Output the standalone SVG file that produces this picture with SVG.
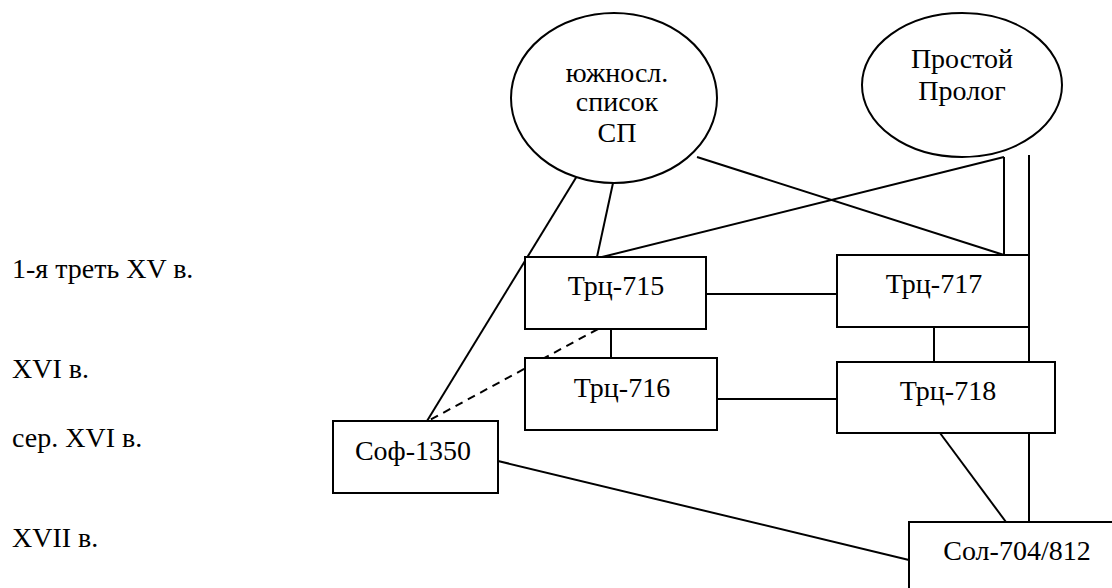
<svg xmlns="http://www.w3.org/2000/svg" width="1112" height="588" viewBox="0 0 1112 588" font-family="Liberation Serif, Tinos, Times New Roman, DejaVu Serif, Noto Serif, serif">
<style>
.n{fill:#fff;stroke:#000;stroke-width:2}
.t{font-size:28px;fill:#000}
.m{text-anchor:middle}
.c line{stroke:#000;stroke-width:2}
.d{stroke-dasharray:8 6}
</style>
<rect width="1112" height="588" fill="#fff"/>
<g id="labels">
<text class="t" x="12" y="278" style="font-family:'Liberation Serif',serif">1-я треть XV в.</text>
<text class="t" x="12" y="378">XVI в.</text>
<text class="t" x="12" y="447">сер. XVI в.</text>
<text class="t" x="12" y="547">XVII в.</text>
</g>
<g class="c" id="connectors">
<line x1="577" y1="176" x2="427" y2="421"/>
<line x1="613" y1="183" x2="597" y2="257"/>
<line x1="697" y1="157" x2="1004" y2="255"/>
<line x1="1004" y1="157" x2="602" y2="257"/>
<line x1="1004" y1="157" x2="1004" y2="255"/>
<line x1="1029" y1="155" x2="1029" y2="522"/>
<line x1="706" y1="294" x2="837" y2="294"/>
<line x1="611" y1="329" x2="611" y2="358"/>
<line class="d" x1="598" y1="329" x2="428" y2="421"/>
<line x1="717" y1="399" x2="837" y2="399"/>
<line x1="934" y1="327" x2="934" y2="362"/>
<line x1="940" y1="433" x2="1006" y2="522"/>
<line x1="498" y1="461" x2="909" y2="560"/>
</g>
<g id="n-yuzhnosl">
<ellipse class="n" cx="614" cy="98" rx="103" ry="85"/>
<text class="t m" x="617" y="82">южносл.</text>
<text class="t m" x="617" y="111">список</text>
<text class="t m" x="617" y="142">СП</text>
</g>
<g id="n-prostoy">
<ellipse class="n" cx="962" cy="85" rx="100" ry="72"/>
<text class="t m" x="962" y="68">Простой</text>
<text class="t m" x="962" y="100">Пролог</text>
</g>
<g id="n-715">
<rect class="n" x="525" y="257" width="181" height="72"/>
<text class="t m" x="616" y="295">Трц-715</text>
</g>
<g id="n-717">
<rect class="n" x="837" y="255" width="192" height="72"/>
<text class="t m" x="934" y="293">Трц-717</text>
</g>
<g id="n-716">
<rect class="n" x="525" y="358" width="192" height="72"/>
<text class="t m" x="622" y="397">Трц-716</text>
</g>
<g id="n-718">
<rect class="n" x="837" y="362" width="218" height="71"/>
<text class="t m" x="948" y="400">Трц-718</text>
</g>
<g id="n-sof">
<rect class="n" x="333" y="421" width="165" height="72"/>
<text class="t m" x="413" y="460">Соф-1350</text>
</g>
<g id="n-sol">
<rect class="n" x="909" y="522" width="215" height="80"/>
<text class="t m" x="1017" y="560">Сол-704/812</text>
</g>
<line x1="1029" y1="327" x2="1029" y2="362" stroke="#000" stroke-width="2"/>
<line x1="1029" y1="433" x2="1029" y2="522" stroke="#000" stroke-width="2"/>
</svg>
